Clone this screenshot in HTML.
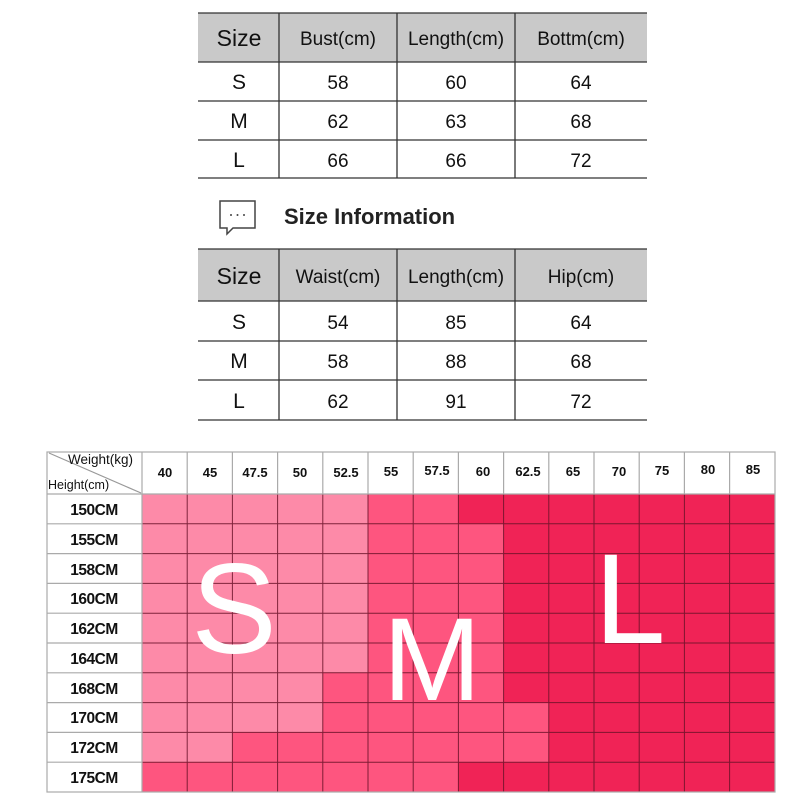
<!DOCTYPE html>
<html><head><meta charset="utf-8"><style>
html,body{margin:0;padding:0;background:#fff}
svg{display:block}
</style></head><body>
<svg width="800" height="800" viewBox="0 0 800 800" xmlns="http://www.w3.org/2000/svg" font-family="Liberation Sans, sans-serif">
<!-- Table 1 -->
<rect x="198" y="13" width="449" height="49" fill="#c9c9c9"/>
<g stroke="#333" stroke-width="1.3">
<line x1="198" y1="13" x2="647" y2="13"/>
<line x1="198" y1="62" x2="647" y2="62"/>
<line x1="198" y1="101" x2="647" y2="101"/>
<line x1="198" y1="140" x2="647" y2="140"/>
<line x1="198" y1="178" x2="647" y2="178"/>
<line x1="279" y1="13" x2="279" y2="178"/>
<line x1="397" y1="13" x2="397" y2="178"/>
<line x1="515" y1="13" x2="515" y2="178"/>
</g>
<g font-size="19" fill="#111" text-anchor="middle">
<text x="239" y="46" font-size="23">Size</text>
<text x="338" y="45">Bust(cm)</text>
<text x="456" y="45">Length(cm)</text>
<text x="581" y="45">Bottm(cm)</text>
<text x="239" y="89" font-size="21">S</text><text x="338" y="89">58</text><text x="456" y="89">60</text><text x="581" y="89">64</text>
<text x="239" y="128" font-size="21">M</text><text x="338" y="128">62</text><text x="456" y="128">63</text><text x="581" y="128">68</text>
<text x="239" y="167" font-size="21">L</text><text x="338" y="167">66</text><text x="456" y="167">66</text><text x="581" y="167">72</text>
</g>
<!-- icon -->
<path d="M220,201 H255 V228 H233 L227,234 L227,228 H220 Z" fill="none" stroke="#444" stroke-width="1.5"/>
<g fill="#444"><circle cx="231" cy="215" r="1"/><circle cx="237.5" cy="215" r="1"/><circle cx="244" cy="215" r="1"/></g>
<text x="284" y="224" font-size="22" font-weight="bold" fill="#222">Size Information</text>
<!-- Table 2 -->
<rect x="198" y="249" width="449" height="52" fill="#c9c9c9"/>
<g stroke="#333" stroke-width="1.3">
<line x1="198" y1="249" x2="647" y2="249"/>
<line x1="198" y1="301" x2="647" y2="301"/>
<line x1="198" y1="341" x2="647" y2="341"/>
<line x1="198" y1="380" x2="647" y2="380"/>
<line x1="198" y1="420" x2="647" y2="420"/>
<line x1="279" y1="249" x2="279" y2="420"/>
<line x1="397" y1="249" x2="397" y2="420"/>
<line x1="515" y1="249" x2="515" y2="420"/>
</g>
<g font-size="19" fill="#111" text-anchor="middle">
<text x="239" y="284" font-size="23">Size</text>
<text x="338" y="283">Waist(cm)</text>
<text x="456" y="283">Length(cm)</text>
<text x="581" y="283">Hip(cm)</text>
<text x="239" y="329" font-size="21">S</text><text x="338" y="329">54</text><text x="456" y="329">85</text><text x="581" y="329">64</text>
<text x="239" y="368" font-size="21">M</text><text x="338" y="368">58</text><text x="456" y="368">88</text><text x="581" y="368">68</text>
<text x="239" y="408" font-size="21">L</text><text x="338" y="408">62</text><text x="456" y="408">91</text><text x="581" y="408">72</text>
</g>
<!-- Size grid -->
<rect x="142" y="494" width="633" height="298" fill="#f02356"/>
<polygon points="142,494 368,494 368,672.8 322.8,672.8 322.8,732.4 232.4,732.4 232.4,762.2 142,762.2" fill="#fd8aa8"/>
<polygon points="368,494 458.4,494 458.4,523.8 503.6,523.8 503.6,702.6 548.8,702.6 548.8,762.2 458.4,762.2 458.4,792 142,792 142,762.2 232.4,762.2 232.4,732.4 322.8,732.4 322.8,672.8 368,672.8" fill="#fe557f"/>
<g stroke="#6a1228" stroke-width="1" opacity="0.85">
<line x1="142" y1="523.8" x2="775" y2="523.8"/><line x1="142" y1="553.6" x2="775" y2="553.6"/>
<line x1="142" y1="583.4" x2="775" y2="583.4"/><line x1="142" y1="613.2" x2="775" y2="613.2"/>
<line x1="142" y1="643" x2="775" y2="643"/><line x1="142" y1="672.8" x2="775" y2="672.8"/>
<line x1="142" y1="702.6" x2="775" y2="702.6"/><line x1="142" y1="732.4" x2="775" y2="732.4"/>
<line x1="142" y1="762.2" x2="775" y2="762.2"/>
<line x1="187.2" y1="494" x2="187.2" y2="792"/><line x1="232.4" y1="494" x2="232.4" y2="792"/>
<line x1="277.6" y1="494" x2="277.6" y2="792"/><line x1="322.8" y1="494" x2="322.8" y2="792"/>
<line x1="368" y1="494" x2="368" y2="792"/><line x1="413.2" y1="494" x2="413.2" y2="792"/>
<line x1="458.4" y1="494" x2="458.4" y2="792"/><line x1="503.6" y1="494" x2="503.6" y2="792"/>
<line x1="548.8" y1="494" x2="548.8" y2="792"/><line x1="594" y1="494" x2="594" y2="792"/>
<line x1="639.2" y1="494" x2="639.2" y2="792"/><line x1="684.4" y1="494" x2="684.4" y2="792"/>
<line x1="729.6" y1="494" x2="729.6" y2="792"/>
</g>
<!-- header/label grid grey -->
<g stroke="#aaa" stroke-width="1.2" fill="none">
<rect x="47" y="452" width="728" height="340"/>
<line x1="142" y1="452" x2="142" y2="792"/>
<line x1="47" y1="494" x2="775" y2="494"/>
<line x1="187.2" y1="452" x2="187.2" y2="494"/><line x1="232.4" y1="452" x2="232.4" y2="494"/>
<line x1="277.6" y1="452" x2="277.6" y2="494"/><line x1="322.8" y1="452" x2="322.8" y2="494"/>
<line x1="368" y1="452" x2="368" y2="494"/><line x1="413.2" y1="452" x2="413.2" y2="494"/>
<line x1="458.4" y1="452" x2="458.4" y2="494"/><line x1="503.6" y1="452" x2="503.6" y2="494"/>
<line x1="548.8" y1="452" x2="548.8" y2="494"/><line x1="594" y1="452" x2="594" y2="494"/>
<line x1="639.2" y1="452" x2="639.2" y2="494"/><line x1="684.4" y1="452" x2="684.4" y2="494"/>
<line x1="729.6" y1="452" x2="729.6" y2="494"/>
<line x1="47" y1="523.8" x2="142" y2="523.8"/><line x1="47" y1="553.6" x2="142" y2="553.6"/>
<line x1="47" y1="583.4" x2="142" y2="583.4"/><line x1="47" y1="613.2" x2="142" y2="613.2"/>
<line x1="47" y1="643" x2="142" y2="643"/><line x1="47" y1="672.8" x2="142" y2="672.8"/>
<line x1="47" y1="702.6" x2="142" y2="702.6"/><line x1="47" y1="732.4" x2="142" y2="732.4"/>
<line x1="47" y1="762.2" x2="142" y2="762.2"/>
<line x1="49" y1="453" x2="141" y2="493" stroke="#999"/>
</g>
<text x="68" y="464" font-size="13.5" fill="#111">Weight(kg)</text>
<text x="48" y="489" font-size="12.5" fill="#111">Height(cm)</text>
<g font-size="13" font-weight="bold" fill="#111" text-anchor="middle">
<text x="165" y="477">40</text><text x="210" y="477">45</text><text x="255" y="477">47.5</text>
<text x="300" y="477">50</text><text x="346" y="477">52.5</text><text x="391" y="476">55</text>
<text x="437" y="475">57.5</text><text x="483" y="476">60</text><text x="528" y="476">62.5</text>
<text x="573" y="476">65</text><text x="619" y="476">70</text><text x="662" y="475">75</text>
<text x="708" y="474">80</text><text x="753" y="474">85</text>
</g>
<g font-size="15.5" font-weight="bold" fill="#111" text-anchor="middle" letter-spacing="-0.5">
<text x="94" y="515">150CM</text><text x="94" y="545">155CM</text><text x="94" y="575">158CM</text>
<text x="94" y="604">160CM</text><text x="94" y="634">162CM</text><text x="94" y="664">164CM</text>
<text x="94" y="694">168CM</text><text x="94" y="723">170CM</text><text x="94" y="753">172CM</text>
<text x="94" y="783">175CM</text>
</g>
<g fill="#fff" text-anchor="middle">
<text x="234" y="653" font-size="128">S</text>
<text x="432" y="700" font-size="118">M</text>
<text x="630" y="643" font-size="128">L</text>
</g>
</svg>
</body></html>
